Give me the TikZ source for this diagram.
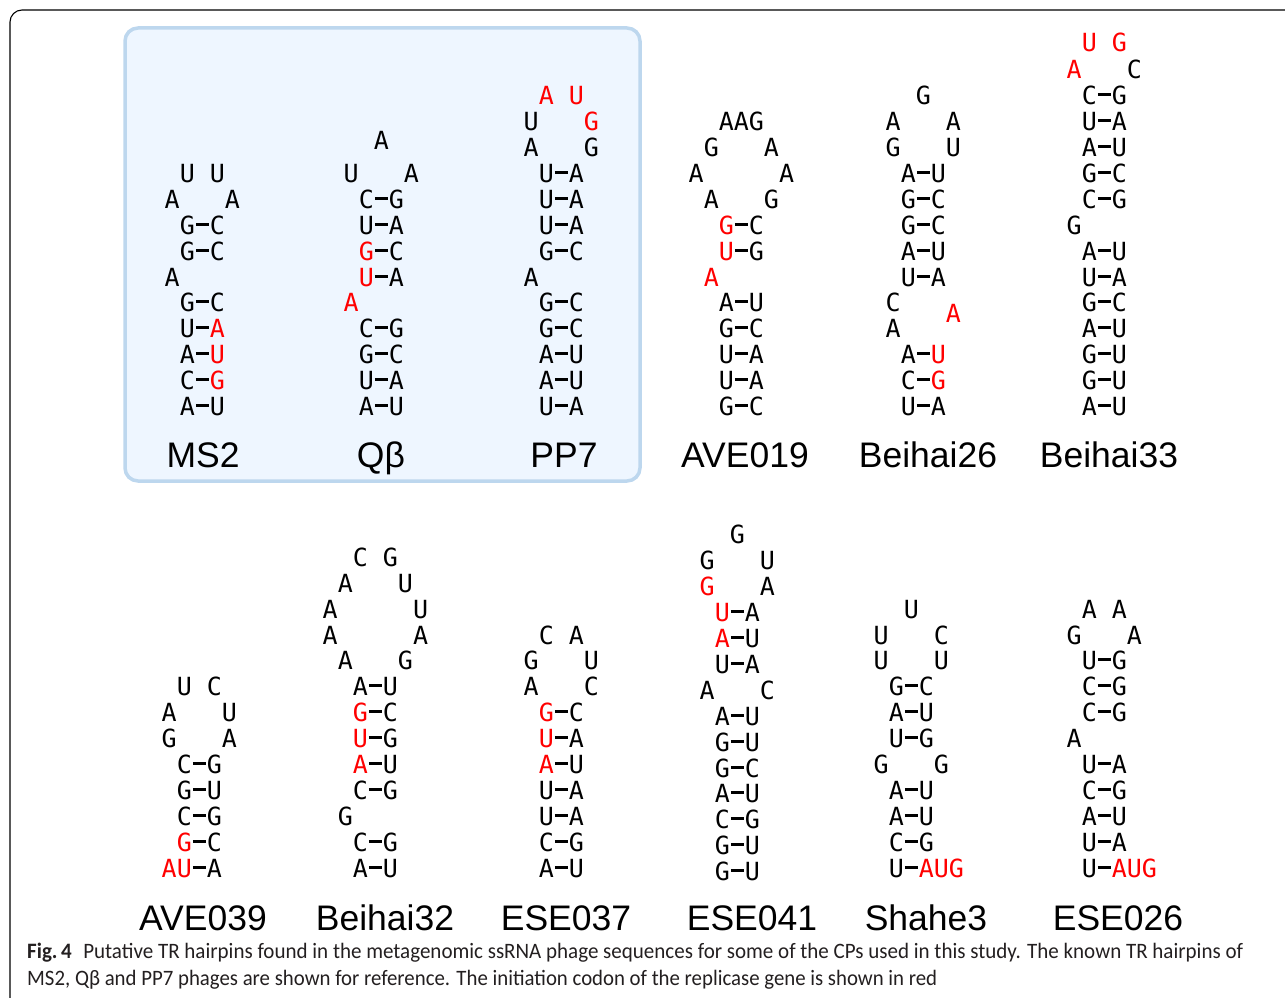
\documentclass[tikz,border=0pt]{standalone}
\usepackage{fontspec}
\usepackage{graphicx}
\newfontfamily\ntfont{DejaVu Sans Mono}
\newfontfamily\labfont{Liberation Sans}
\newfontfamily\capfont{Carlito}
\definecolor{pbord}{RGB}{189,215,238}
\definecolor{pfill}{RGB}{238,246,255}
\definecolor{captxt}{RGB}{35,31,32}
\def\cw{\fontcharwd\font`A}
\newcommand\bp{\hbox to \cw{\hss\rule[0.32em]{0.52em}{0.12em}\hss}}
\def\rchar#1{%
 \if*#1\hbox to \cw{}%
 \else\if-#1\bp
 \else\if a#1{\color{red}A}%
 \else\if u#1{\color{red}U}%
 \else\if g#1{\color{red}G}%
 \else\if c#1{\color{red}C}%
 \else #1\fi\fi\fi\fi\fi\fi}
\def\rowp#1{\ifx\relax#1\else\rchar#1\expandafter\rowp\fi}
\newcommand\nt[1]{\expandafter\rowp#1\relax}
\tikzset{
  nuc/.style={inner sep=0pt, anchor=base west, font=\ntfont\fontsize{25}{25}\selectfont},
  lab/.style={inner sep=0pt, anchor=base, font=\labfont\fontsize{35.5}{35.5}\selectfont},
  capline/.style={inner sep=0pt, anchor=base west, text=captxt},
  panel/.style={draw=pbord, fill=pfill, line width=3.5pt, rounded corners=13pt},
  frame/.style={draw=black, line width=1.1pt, rounded corners=12pt}
}
\newcommand\hairpin[3]{%
  \foreach \yy/\rw [count=\i] in {#3} {
    \node[nuc] (#1-\i) at ({#2-7.5},{\yy+9}) {\nt{\rw}};
  }}
\begin{document}
\begin{tikzpicture}[x=1pt,y=-1pt]
\useasboundingbox (0,0) rectangle (1285,998);
\draw[frame] (10,1010) -- (10,10) -- (1300,10);
\draw[panel] (125,28) rectangle (640,481);

% ---- top row ----
\hairpin{ms2}{172}{173/*U*U, 199/A***A, 225/*G-C, 251/*G-C, 277/A, 302/*G-C, 328/*U-a, 354/*A-u, 380/*C-g, 406/*A-U}
\hairpin{qb}{351}{140/**A, 173/U***A, 199/*C-G, 225/*U-A, 251/*g-C, 277/*u-A, 302/a, 328/*C-G, 354/*G-C, 380/*U-A, 406/*A-U}
\hairpin{pp7}{531}{95/*a*u, 121/U***g, 147/A***G, 173/*U-A, 199/*U-A, 225/*U-A, 251/*G-C, 277/A, 302/*G-C, 328/*G-C, 354/*A-U, 380/*A-U, 406/*U-A}
\hairpin{ave019}{696}{121/**AAG, 147/*G***A, 173/A*****A, 199/*A***G, 225/**g-C, 251/**u-G, 277/*a, 302/**A-U, 328/**G-C, 354/**U-A, 380/**U-A, 406/**G-C}
\hairpin{bh26}{893}{95/**G, 121/A***A, 147/G***U, 173/*A-U, 199/*G-C, 225/*G-C, 251/*A-U, 277/*U-A, 302/C, 313/****a, 328/A, 354/*A-u, 380/*C-g, 406/*U-A}
\hairpin{bh33}{1074}{43/*u*g, 69/a***C, 95/*C-G, 121/*U-A, 147/*A-U, 173/*G-C, 199/*C-G, 225/G, 251/*A-U, 277/*U-A, 302/*G-C, 328/*A-U, 354/*G-U, 380/*G-U, 406/*A-U}

\node[lab] (lms2) at (203,467) {MS2};
\node[lab] (lqb) at (381,467) {Qβ};
\node[lab] (lpp7) at (564,467) {PP7};
\node[lab] (lave019) at (745,467) {AVE019};
\node[lab] (lbh26) at (928,467) {Beihai26};
\node[lab] (lbh33) at (1109,467) {Beihai33};

% ---- bottom row ----
\hairpin{ave039}{169}{686/*U*C, 712/A***U, 738/G***A, 764/*C-G, 790/*G-U, 816/*C-G, 842/*g-C, 868/au-A}
\hairpin{bh32}{330}{557/**C*G, 583/*A***U, 609/A*****U, 635/A*****A, 660/*A***G, 686/**A-U, 712/**g-C, 738/**u-G, 764/**a-U, 790/**C-G, 816/*G, 842/**C-G, 868/**A-U}
\hairpin{ese037}{531}{635/*C*A, 660/G***U, 686/A***C, 712/*g-C, 738/*u-A, 764/*a-U, 790/*U-A, 816/*U-A, 842/*C-G, 868/*A-U}
\hairpin{ese041}{707}{534/**G, 560/G***U, 586/g***A, 612/*u-A, 638/*a-U, 664/*U-A, 690/A***C, 716/*A-U, 742/*G-U, 768/*G-C, 793/*A-U, 819/*C-G, 845/*G-U, 871/*G-U}
\hairpin{shahe3}{881}{609/**U, 635/U***C, 660/U***U, 686/*G-C, 712/*A-U, 738/*U-G, 764/G***G, 790/*A-U, 816/*A-U, 842/*C-G, 868/*U-aug}
\hairpin{ese026}{1074}{609/*A*A, 635/G***A, 660/*U-G, 686/*C-G, 712/*C-G, 738/A, 764/*U-A, 790/*C-G, 816/*A-U, 842/*U-A, 868/*U-aug}

\node[lab] (lave039) at (203,930) {AVE039};
\node[lab] (lbh32) at (385,930) {Beihai32};
\node[lab] (lese037) at (566,930) {ESE037};
\node[lab] (lese041) at (752,930) {ESE041};
\node[lab] (lshahe3) at (926,930) {Shahe3};
\node[lab] (lese026) at (1118,930) {ESE026};

% ---- caption ----
\node[capline] (cap1) at (27,958) {\resizebox{1216pt}{\height}{\capfont\fontsize{22}{22}\selectfont\textbf{Fig.\,4}\hspace{0.55em}Putative TR hairpins found in the metagenomic ssRNA phage sequences for some of the CPs used in this study. The known TR hairpins of}};
\node[capline] (cap2) at (27,985) {\resizebox{910pt}{\height}{\capfont\fontsize{22}{22}\selectfont MS2, Qβ and PP7 phages are shown for reference. The initiation codon of the replicase gene is shown in red}};
\end{tikzpicture}
\end{document}
